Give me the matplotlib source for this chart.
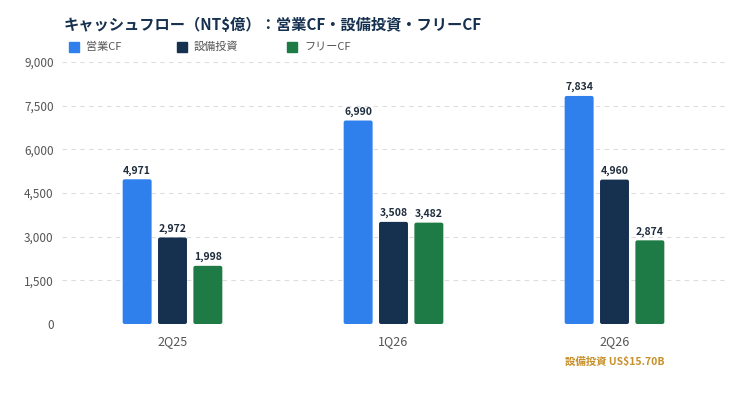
import matplotlib
matplotlib.use("Agg")
import matplotlib.pyplot as plt
from matplotlib.patches import FancyBboxPatch
import numpy as np

plt.rcParams['font.family'] = ['Noto Sans CJK JP', 'DejaVu Sans']

categories = ["2Q25", "1Q26", "2Q26"]
op_cf = [4971, 6990, 7834]
capex = [2972, 3508, 4960]
free_cf = [1998, 3482, 2874]
series_names = ["営業CF", "設備投資", "フリーCF"]
colors = ["#2F80ED", "#16304F", "#1E7B45"]
yticks = [0, 1500, 3000, 4500, 6000, 7500, 9000]

fig = plt.figure(figsize=(7.49, 3.94), dpi=100)
ax = fig.add_axes([62/749, 1-324/394, (725-62)/749, (324-62)/394])

ax.set_xlim(-0.5, 2.5)
ax.set_ylim(0, 9000)
xpp = 3 / 663.0      # data x per pixel
ypp = 9000 / 262.0   # data y per pixel

x = np.arange(len(categories))
w = 0.131
off = 0.16
for i, (vals, col) in enumerate(zip([op_cf, capex, free_cf], colors)):
    bars = ax.bar(x + (i-1)*off, vals, width=w, color=col, zorder=3)
    for b, v in zip(bars, vals):
        b.set_visible(False)
        x0 = b.get_x()
        p = FancyBboxPatch((x0, 0), w, v,
                           boxstyle=f"round,pad=0,rounding_size={2*xpp}",
                           mutation_aspect=ypp/xpp, facecolor=col,
                           edgecolor='none', zorder=3)
        ax.add_patch(p)
        ax.text(x0 + w/2, v + 120, f"{v:,}", ha='center', va='bottom', fontsize=7.5,
                fontweight='bold', color='#1f2d3d', zorder=4)

ax.set_yticks(yticks)
ax.set_yticklabels([f"{t:,}" for t in yticks], fontsize=8.5, color='#555555')
ax.set_xticks(x)
ax.set_xticklabels(categories, fontsize=9, color='#555555')
ax.tick_params(axis='both', length=0, pad=6)
ax.tick_params(axis='x', pad=8)
ax.grid(axis='y', color='#dddddd', linestyle=(0, (4, 4)), linewidth=0.8, zorder=0)
for s in ax.spines.values():
    s.set_visible(False)

ax.text(2, -0.125, "設備投資 US$15.70B", transform=ax.get_xaxis_transform(),
        ha='center', va='top', fontsize=7.5, fontweight='bold', color='#C8902A')

fig.text(64/749, 1-25/394, "キャッシュフロー（NT$億）：営業CF・設備投資・フリーCF",
         fontsize=11, fontweight='bold', color='#16304F', va='center', ha='left')

lx = [69, 177, 287]
for px, name, col in zip(lx, series_names, colors):
    fig.patches.append(FancyBboxPatch((px/749, 1-52/394), 10/749, 10/394,
                                      boxstyle='square,pad=0', transform=fig.transFigure,
                                      color=col, figure=fig))
    fig.text((px+17)/749, 1-47/394, name, fontsize=8, color='#555555', va='center', ha='left')

fig.savefig("out.png", dpi=100)
